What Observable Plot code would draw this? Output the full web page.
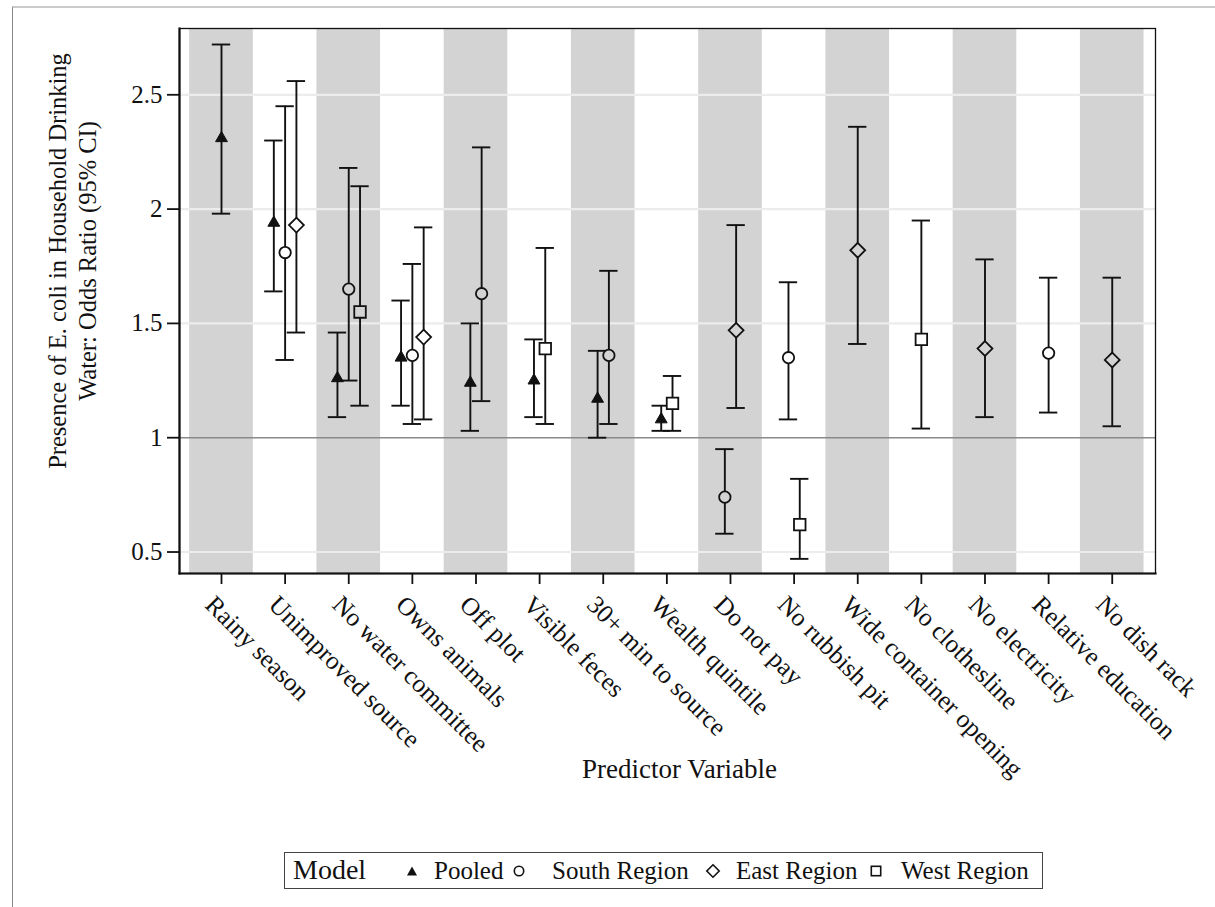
<!DOCTYPE html>
<html><head><meta charset="utf-8">
<script src="https://cdn.jsdelivr.net/npm/d3@7"></script>
<script src="https://cdn.jsdelivr.net/npm/@observablehq/plot@0.6"></script>
<style>
body{margin:0;background:#fff;font-family:"Liberation Serif","Times New Roman",serif;}
#wrap{position:relative;width:1215px;height:907px;overflow:hidden;background:#fff;}
#border{position:absolute;left:12px;top:6px;width:1300px;height:1000px;border-left:1.5px solid #888;border-top:2px solid #cacaca;}
#chart{position:absolute;left:0;top:0;}
#legend{position:absolute;left:284px;top:852px;width:759px;height:37px;border:1.5px solid #444;box-sizing:border-box;font-size:25px;color:#111;}
#legend .it{position:absolute;top:50%;transform:translateY(-52%);white-space:nowrap;line-height:1;}
#legend svg{position:absolute;top:50%;transform:translate(-50%,-50%);overflow:visible;}
</style></head><body>
<div id="wrap"><div id="border"></div><div id="chart"></div><div id="legend"></div></div>
<script>
// ---- data ----
const categories = ["Rainy season","Unimproved source","No water committee","Owns animals","Off plot","Visible feces","30+ min to source","Wealth quintile","Do not pay","No rubbish pit","Wide container opening","No clothesline","No electricity","Relative education","No dish rack"];
const seriesNames = ["Pooled","South Region","East Region","West Region"];
// odds ratio, lower CI, upper CI (null = not in model)
const pooledOR = [2.31,1.94,1.26,1.35,1.24,1.25,1.17,1.08,null,null,null,null,null,null,null];
const pooledLo = [1.98,1.64,1.09,1.14,1.03,1.09,1.00,1.03,null,null,null,null,null,null,null];
const pooledHi = [2.72,2.30,1.46,1.60,1.50,1.43,1.38,1.14,null,null,null,null,null,null,null];
const southOR = [null,1.81,1.65,1.36,1.63,null,1.36,null,0.74,1.35,null,null,null,1.37,null];
const southLo = [null,1.34,1.25,1.06,1.16,null,1.06,null,0.58,1.08,null,null,null,1.11,null];
const southHi = [null,2.45,2.18,1.76,2.27,null,1.73,null,0.95,1.68,null,null,null,1.70,null];
const eastOR  = [null,1.93,null,1.44,null,null,null,null,1.47,null,1.82,null,1.39,null,1.34];
const eastLo  = [null,1.46,null,1.08,null,null,null,null,1.13,null,1.41,null,1.09,null,1.05];
const eastHi  = [null,2.56,null,1.92,null,null,null,null,1.93,null,2.36,null,1.78,null,1.70];
const westOR  = [null,null,1.55,null,null,1.39,null,1.15,null,0.62,null,1.43,null,null,null];
const westLo  = [null,null,1.14,null,null,1.06,null,1.03,null,0.47,null,1.04,null,null,null];
const westHi  = [null,null,2.10,null,null,1.83,null,1.27,null,0.82,null,1.95,null,null,null];
const yTicks = [0.5,1,1.5,2,2.5];
const yTitle = "Presence of E. coli in Household Drinking\nWater: Odds Ratio (95% CI)";
const xTitle = "Predictor Variable";
const legendTitle = "Model";

// ---- build table ----
const seriesData = [[pooledOR,pooledLo,pooledHi],[southOR,southLo,southHi],[eastOR,eastLo,eastHi],[westOR,westLo,westHi]];
const spread = 0.1775, cap = 0.144;
const rows = [];
categories.forEach((c, i) => {
  const present = seriesData.map((s, k) => k).filter(k => seriesData[k][0][i] != null);
  present.forEach((k, j) => {
    rows.push({cat: i, category: c, series: seriesNames[k], x: i + (j - (present.length - 1) / 2) * spread,
      or: seriesData[k][0][i], lo: seriesData[k][1][i], hi: seriesData[k][2][i]});
  });
});
const idx = categories.map((_, i) => i);
const bandIdx = idx.filter(i => i % 2 === 0);
const bandFill = "#d3d3d3";
const bg = d => d.cat % 2 === 0 ? bandFill : "#ffffff";
const ink = "#111";
const symbols = {"Pooled": "triangle", "South Region": "circle", "East Region": "diamond2", "West Region": "square"};
const radii = {"Pooled": 4.4, "South Region": 5.7, "East Region": 6.7, "West Region": 6.5};

const plot = Plot.plot({
  width: 1215, height: 840,
  marginLeft: 179, marginRight: 60, marginTop: 28, marginBottom: 267,
  style: {fontFamily: "'Liberation Serif','Times New Roman',serif", fontSize: "24px", color: ink, background: "transparent", overflow: "visible"},
  x: {type: "linear", domain: [-0.66, 14.68], label: null},
  y: {domain: [0.406, 2.79], label: null},
  marks: [
    Plot.rect(bandIdx, {x1: d => d - 0.5, x2: d => d + 0.5, fill: bandFill}),
    Plot.ruleY(yTicks.filter(t => t !== 1), {stroke: "#ececec", strokeWidth: 2.2}),
    Plot.ruleY([1], {stroke: "#8a8a8a", strokeWidth: 1.6}),
    Plot.ruleX(rows, {x: "x", y1: "lo", y2: "hi", stroke: ink, strokeWidth: 1.9}),
    Plot.ruleY(rows, {y: "lo", x1: d => d.x - cap, x2: d => d.x + cap, stroke: ink, strokeWidth: 1.9}),
    Plot.ruleY(rows, {y: "hi", x1: d => d.x - cap, x2: d => d.x + cap, stroke: ink, strokeWidth: 1.9}),
    ...seriesNames.map(s => Plot.dot(rows.filter(d => d.series === s), {
      x: "x", y: "or", symbol: symbols[s], r: radii[s],
      fill: s === "Pooled" ? ink : bg, stroke: ink, strokeWidth: s === "Pooled" ? 1 : 1.8
    })),
    Plot.frame({stroke: ink, strokeWidth: 1.3}),
    Plot.frame({anchor: "left", stroke: ink, strokeWidth: 2.2}),
    Plot.frame({anchor: "bottom", stroke: ink, strokeWidth: 2.2}),
    Plot.axisY({ticks: yTicks, tickSize: 12, tickPadding: 5, tickFormat: d => String(d), fontSize: 25, strokeWidth: 1.8}),
    Plot.axisX({ticks: idx, tickSize: 11, tickFormat: () => "", strokeWidth: 1.8}),
    Plot.text(categories, {x: (d, i) => i, text: d => d, frameAnchor: "bottom", dy: 20, dx: -5, rotate: 45, textAnchor: "start", lineAnchor: "top", fontSize: 25.5, fill: ink}),
    Plot.text([xTitle], {text: d => d, frameAnchor: "bottom", dy: 196, dx: 12, textAnchor: "middle", lineAnchor: "middle", fontSize: 27, fill: ink}),
    Plot.text([yTitle], {text: d => d, frameAnchor: "left", dx: -108, dy: -40, rotate: -90, textAnchor: "middle", lineAnchor: "middle", lineHeight: 1.2, fontSize: 24.5, fill: ink})
  ]
});
document.getElementById("chart").appendChild(plot);

// ---- legend ----
const legend = document.getElementById("legend");
const icons = {
  "Pooled": '<svg width="10" height="9"><polygon points="0,9 5,0 10,9" fill="#111"/></svg>',
  "South Region": '<svg width="11" height="11"><circle cx="5.5" cy="5.5" r="4.7" fill="none" stroke="#111" stroke-width="1.6"/></svg>',
  "East Region": '<svg width="14" height="14"><polygon points="7,0.8 13.2,7 7,13.2 0.8,7" fill="none" stroke="#111" stroke-width="1.6"/></svg>',
  "West Region": '<svg width="11" height="11"><rect x="0.8" y="0.8" width="9.4" height="9.4" fill="none" stroke="#111" stroke-width="1.6"/></svg>'
};
const iconX = [127, 234, 428, 591];
const textX = [149, 267, 451, 616];
let html = `<span class="it" style="left:8px;font-size:28px">${legendTitle}</span>`;
seriesNames.forEach((s, k) => {
  html += `<span style="position:absolute;left:${iconX[k]}px;top:0;height:100%">${icons[s]}</span>`;
  html += `<span class="it" style="left:${textX[k]}px">${s}</span>`;
});
legend.innerHTML = html;
</script>
</body></html>
